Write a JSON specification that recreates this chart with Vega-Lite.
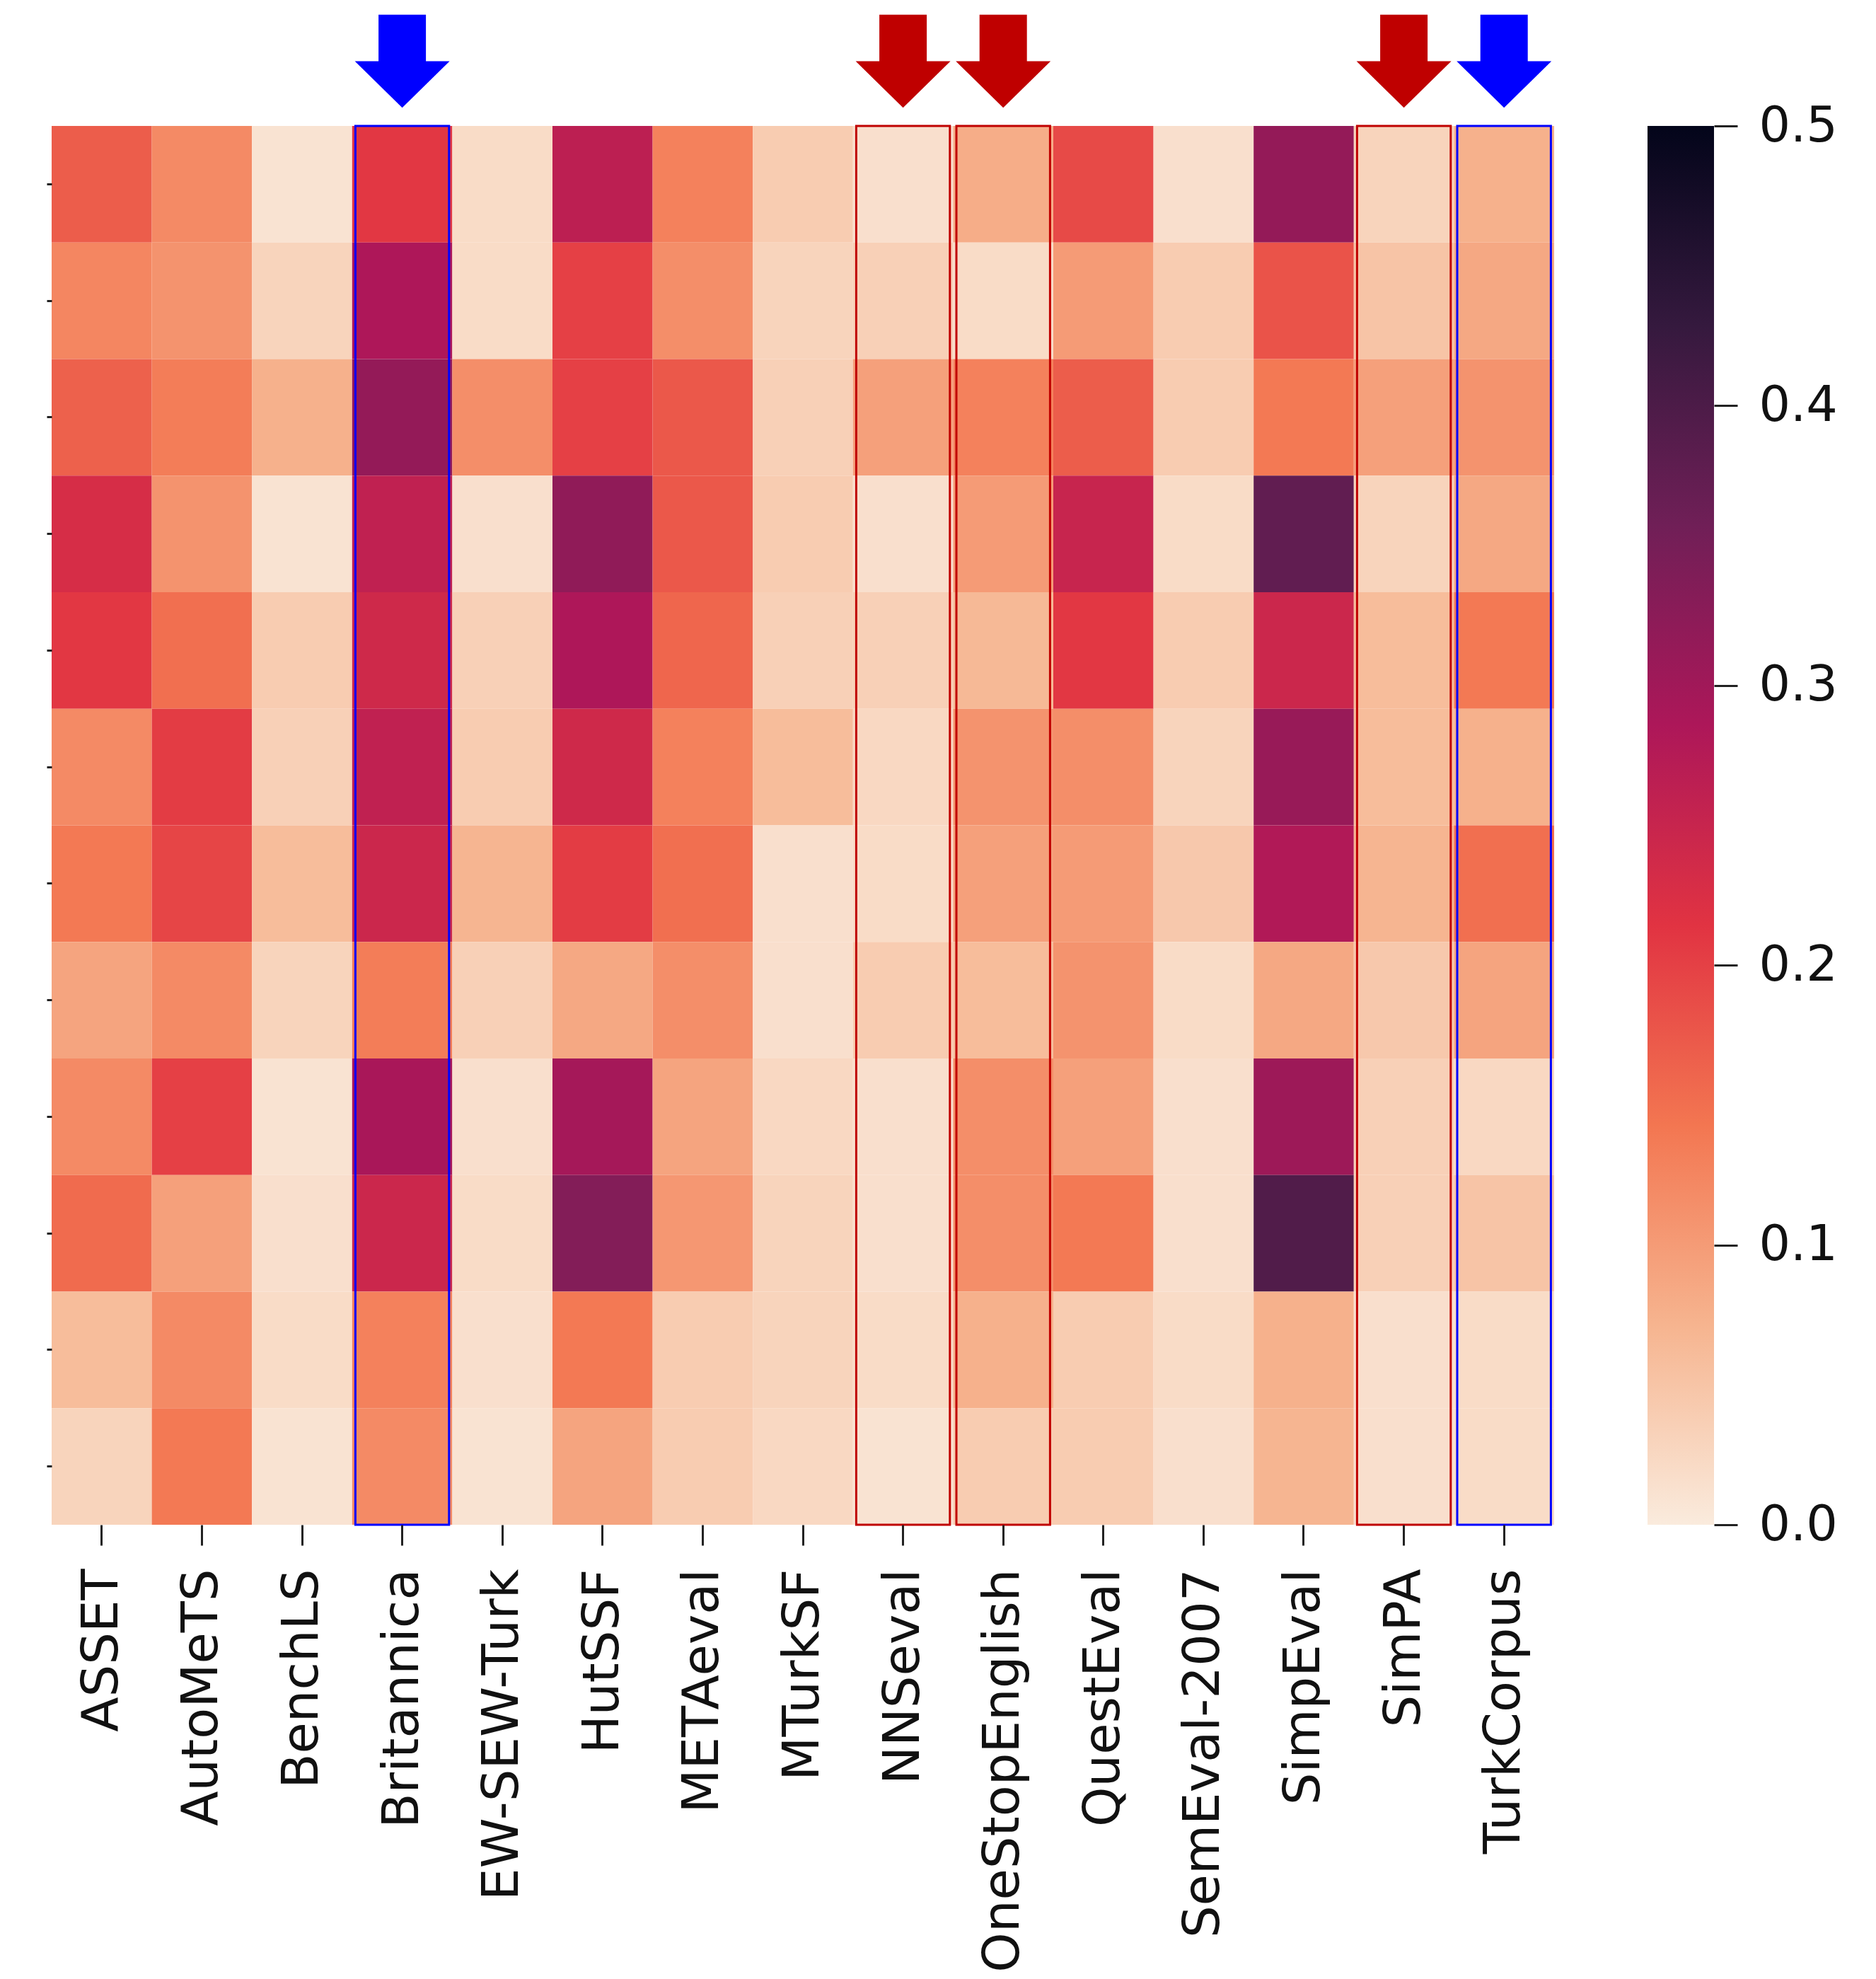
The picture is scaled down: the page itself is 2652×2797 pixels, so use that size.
{
  "$schema": "https://vega.github.io/schema/vega-lite/v6.json",
  "background": "white",
  "padding": {"left": 64, "top": 0, "right": 0, "bottom": 0},
  "config": {"view": {"stroke": null}, "font": "DejaVu Sans"},
  "datasets": {
    "marked": [
      {"set": "Britannica", "group": "blue"},
      {"set": "NNSeval", "group": "red"},
      {"set": "OneStopEnglish", "group": "red"},
      {"set": "SimPA", "group": "red"},
      {"set": "TurkCorpus", "group": "blue"}
    ],
    "cells": [
      {"row":1,"set":"ASSET","v":0.17},{"row":1,"set":"AutoMeTS","v":0.12},{"row":1,"set":"BenchLS","v":0.01},{"row":1,"set":"Britannica","v":0.21},{"row":1,"set":"EW-SEW-Turk","v":0.02},{"row":1,"set":"HutSSF","v":0.265},{"row":1,"set":"METAeval","v":0.13},{"row":1,"set":"MTurkSF","v":0.04},{"row":1,"set":"NNSeval","v":0.015},{"row":1,"set":"OneStopEnglish","v":0.08},{"row":1,"set":"QuestEval","v":0.19},{"row":1,"set":"SemEval-2007","v":0.015},{"row":1,"set":"SimpEval","v":0.315},{"row":1,"set":"SimPA","v":0.03},{"row":1,"set":"TurkCorpus","v":0.075},
      {"row":2,"set":"ASSET","v":0.125},{"row":2,"set":"AutoMeTS","v":0.11},{"row":2,"set":"BenchLS","v":0.03},{"row":2,"set":"Britannica","v":0.285},{"row":2,"set":"EW-SEW-Turk","v":0.02},{"row":2,"set":"HutSSF","v":0.2},{"row":2,"set":"METAeval","v":0.115},{"row":2,"set":"MTurkSF","v":0.03},{"row":2,"set":"NNSeval","v":0.035},{"row":2,"set":"OneStopEnglish","v":0.02},{"row":2,"set":"QuestEval","v":0.1},{"row":2,"set":"SemEval-2007","v":0.04},{"row":2,"set":"SimpEval","v":0.18},{"row":2,"set":"SimPA","v":0.05},{"row":2,"set":"TurkCorpus","v":0.085},
      {"row":3,"set":"ASSET","v":0.165},{"row":3,"set":"AutoMeTS","v":0.135},{"row":3,"set":"BenchLS","v":0.075},{"row":3,"set":"Britannica","v":0.315},{"row":3,"set":"EW-SEW-Turk","v":0.115},{"row":3,"set":"HutSSF","v":0.2},{"row":3,"set":"METAeval","v":0.175},{"row":3,"set":"MTurkSF","v":0.035},{"row":3,"set":"NNSeval","v":0.095},{"row":3,"set":"OneStopEnglish","v":0.13},{"row":3,"set":"QuestEval","v":0.17},{"row":3,"set":"SemEval-2007","v":0.04},{"row":3,"set":"SimpEval","v":0.14},{"row":3,"set":"SimPA","v":0.095},{"row":3,"set":"TurkCorpus","v":0.11},
      {"row":4,"set":"ASSET","v":0.23},{"row":4,"set":"AutoMeTS","v":0.11},{"row":4,"set":"BenchLS","v":0.01},{"row":4,"set":"Britannica","v":0.26},{"row":4,"set":"EW-SEW-Turk","v":0.015},{"row":4,"set":"HutSSF","v":0.32},{"row":4,"set":"METAeval","v":0.175},{"row":4,"set":"MTurkSF","v":0.04},{"row":4,"set":"NNSeval","v":0.015},{"row":4,"set":"OneStopEnglish","v":0.1},{"row":4,"set":"QuestEval","v":0.25},{"row":4,"set":"SemEval-2007","v":0.02},{"row":4,"set":"SimpEval","v":0.375},{"row":4,"set":"SimPA","v":0.03},{"row":4,"set":"TurkCorpus","v":0.085},
      {"row":5,"set":"ASSET","v":0.21},{"row":5,"set":"AutoMeTS","v":0.15},{"row":5,"set":"BenchLS","v":0.04},{"row":5,"set":"Britannica","v":0.24},{"row":5,"set":"EW-SEW-Turk","v":0.035},{"row":5,"set":"HutSSF","v":0.285},{"row":5,"set":"METAeval","v":0.16},{"row":5,"set":"MTurkSF","v":0.035},{"row":5,"set":"NNSeval","v":0.035},{"row":5,"set":"OneStopEnglish","v":0.065},{"row":5,"set":"QuestEval","v":0.21},{"row":5,"set":"SemEval-2007","v":0.04},{"row":5,"set":"SimpEval","v":0.245},{"row":5,"set":"SimPA","v":0.06},{"row":5,"set":"TurkCorpus","v":0.14},
      {"row":6,"set":"ASSET","v":0.12},{"row":6,"set":"AutoMeTS","v":0.205},{"row":6,"set":"BenchLS","v":0.035},{"row":6,"set":"Britannica","v":0.26},{"row":6,"set":"EW-SEW-Turk","v":0.04},{"row":6,"set":"HutSSF","v":0.24},{"row":6,"set":"METAeval","v":0.13},{"row":6,"set":"MTurkSF","v":0.06},{"row":6,"set":"NNSeval","v":0.025},{"row":6,"set":"OneStopEnglish","v":0.11},{"row":6,"set":"QuestEval","v":0.115},{"row":6,"set":"SemEval-2007","v":0.03},{"row":6,"set":"SimpEval","v":0.31},{"row":6,"set":"SimPA","v":0.06},{"row":6,"set":"TurkCorpus","v":0.075},
      {"row":7,"set":"ASSET","v":0.14},{"row":7,"set":"AutoMeTS","v":0.195},{"row":7,"set":"BenchLS","v":0.06},{"row":7,"set":"Britannica","v":0.245},{"row":7,"set":"EW-SEW-Turk","v":0.07},{"row":7,"set":"HutSSF","v":0.205},{"row":7,"set":"METAeval","v":0.15},{"row":7,"set":"MTurkSF","v":0.015},{"row":7,"set":"NNSeval","v":0.02},{"row":7,"set":"OneStopEnglish","v":0.095},{"row":7,"set":"QuestEval","v":0.1},{"row":7,"set":"SemEval-2007","v":0.045},{"row":7,"set":"SimpEval","v":0.28},{"row":7,"set":"SimPA","v":0.07},{"row":7,"set":"TurkCorpus","v":0.15},
      {"row":8,"set":"ASSET","v":0.09},{"row":8,"set":"AutoMeTS","v":0.12},{"row":8,"set":"BenchLS","v":0.03},{"row":8,"set":"Britannica","v":0.135},{"row":8,"set":"EW-SEW-Turk","v":0.035},{"row":8,"set":"HutSSF","v":0.085},{"row":8,"set":"METAeval","v":0.115},{"row":8,"set":"MTurkSF","v":0.015},{"row":8,"set":"NNSeval","v":0.04},{"row":8,"set":"OneStopEnglish","v":0.06},{"row":8,"set":"QuestEval","v":0.11},{"row":8,"set":"SemEval-2007","v":0.02},{"row":8,"set":"SimpEval","v":0.085},{"row":8,"set":"SimPA","v":0.045},{"row":8,"set":"TurkCorpus","v":0.09},
      {"row":9,"set":"ASSET","v":0.12},{"row":9,"set":"AutoMeTS","v":0.2},{"row":9,"set":"BenchLS","v":0.01},{"row":9,"set":"Britannica","v":0.29},{"row":9,"set":"EW-SEW-Turk","v":0.015},{"row":9,"set":"HutSSF","v":0.295},{"row":9,"set":"METAeval","v":0.09},{"row":9,"set":"MTurkSF","v":0.025},{"row":9,"set":"NNSeval","v":0.015},{"row":9,"set":"OneStopEnglish","v":0.115},{"row":9,"set":"QuestEval","v":0.095},{"row":9,"set":"SemEval-2007","v":0.015},{"row":9,"set":"SimpEval","v":0.305},{"row":9,"set":"SimPA","v":0.035},{"row":9,"set":"TurkCorpus","v":0.025},
      {"row":10,"set":"ASSET","v":0.155},{"row":10,"set":"AutoMeTS","v":0.095},{"row":10,"set":"BenchLS","v":0.015},{"row":10,"set":"Britannica","v":0.245},{"row":10,"set":"EW-SEW-Turk","v":0.02},{"row":10,"set":"HutSSF","v":0.335},{"row":10,"set":"METAeval","v":0.105},{"row":10,"set":"MTurkSF","v":0.03},{"row":10,"set":"NNSeval","v":0.015},{"row":10,"set":"OneStopEnglish","v":0.115},{"row":10,"set":"QuestEval","v":0.14},{"row":10,"set":"SemEval-2007","v":0.015},{"row":10,"set":"SimpEval","v":0.395},{"row":10,"set":"SimPA","v":0.035},{"row":10,"set":"TurkCorpus","v":0.05},
      {"row":11,"set":"ASSET","v":0.06},{"row":11,"set":"AutoMeTS","v":0.12},{"row":11,"set":"BenchLS","v":0.02},{"row":11,"set":"Britannica","v":0.13},{"row":11,"set":"EW-SEW-Turk","v":0.015},{"row":11,"set":"HutSSF","v":0.14},{"row":11,"set":"METAeval","v":0.04},{"row":11,"set":"MTurkSF","v":0.03},{"row":11,"set":"NNSeval","v":0.02},{"row":11,"set":"OneStopEnglish","v":0.075},{"row":11,"set":"QuestEval","v":0.04},{"row":11,"set":"SemEval-2007","v":0.02},{"row":11,"set":"SimpEval","v":0.075},{"row":11,"set":"SimPA","v":0.015},{"row":11,"set":"TurkCorpus","v":0.02},
      {"row":12,"set":"ASSET","v":0.03},{"row":12,"set":"AutoMeTS","v":0.14},{"row":12,"set":"BenchLS","v":0.01},{"row":12,"set":"Britannica","v":0.12},{"row":12,"set":"EW-SEW-Turk","v":0.01},{"row":12,"set":"HutSSF","v":0.09},{"row":12,"set":"METAeval","v":0.04},{"row":12,"set":"MTurkSF","v":0.025},{"row":12,"set":"NNSeval","v":0.01},{"row":12,"set":"OneStopEnglish","v":0.04},{"row":12,"set":"QuestEval","v":0.04},{"row":12,"set":"SemEval-2007","v":0.015},{"row":12,"set":"SimpEval","v":0.07},{"row":12,"set":"SimPA","v":0.015},{"row":12,"set":"TurkCorpus","v":0.02}
    ],
    "bar": [{"lo": 0, "hi": 0.5}]
  },
  "bounds": "flush",
  "spacing": 5,
  "vconcat": [
    {
      "width": 2124,
      "height": 173,
      "data": {"name": "marked"},
      "mark": {"type": "point", "filled": true, "opacity": 1, "shape": "M -0.5 -0.98 L 0.5 -0.98 L 0.5 0 L 1 0 L 0 0.98 L -1 0 L -0.5 0 Z", "size": 17956},
      "encoding": {
        "x": {"field": "set", "type": "nominal", "axis": null,
              "scale": {"domain": ["ASSET","AutoMeTS","BenchLS","Britannica","EW-SEW-Turk","HutSSF","METAeval","MTurkSF","NNSeval","OneStopEnglish","QuestEval","SemEval-2007","SimpEval","SimPA","TurkCorpus"], "type": "band", "paddingInner": 0, "paddingOuter": 0}},
        "color": {"field": "group", "type": "nominal", "legend": null,
                  "scale": {"domain": ["blue", "red"], "range": ["#0000ff", "#bf0000"]}}
      }
    },
    {
      "spacing": 132,
      "bounds": "flush",
      "hconcat": [
        {
          "width": 2124,
          "height": 1977,
          "layer": [
            {
              "data": {"name": "cells"},
              "mark": {"type": "rect"},
              "encoding": {
                "x": {"field": "set", "type": "nominal", "title": null,
                      "scale": {"domain": ["ASSET","AutoMeTS","BenchLS","Britannica","EW-SEW-Turk","HutSSF","METAeval","MTurkSF","NNSeval","OneStopEnglish","QuestEval","SemEval-2007","SimpEval","SimPA","TurkCorpus"], "type": "band", "paddingInner": 0, "paddingOuter": 0},
                      "axis": {"domain": false, "labelAngle": -90, "labelFontSize": 72, "labelFont": "DejaVu Sans", "labelColor": "#111111", "labelPadding": 33, "labelLimit": 0, "tickSize": 29, "tickWidth": 3, "tickColor": "#222222", "grid": false}},
                "y": {"field": "row", "type": "ordinal", "title": null,
                      "scale": {"paddingInner": 0, "paddingOuter": 0},
                      "axis": {"domain": false, "labels": false, "tickSize": 7, "tickWidth": 3, "tickColor": "#222222", "grid": false}},
                "color": {"field": "v", "type": "quantitative", "legend": null,
                          "scale": {"domain": [0, 0.0714, 0.1429, 0.2143, 0.2857, 0.3571, 0.4286, 0.5],
                                    "range": ["#faebdd", "#f6b48f", "#f37651", "#e13342", "#ad1759", "#701f57", "#35193e", "#03051a"],
                                    "interpolate": "rgb"}}
              }
            },
            {
              "data": {"name": "marked"},
              "mark": {"type": "rect", "fillOpacity": 0, "strokeWidth": 3, "width": {"band": 0.935}, "clip": false},
              "encoding": {
                "x": {"field": "set", "type": "nominal"},
                "stroke": {"field": "group", "type": "nominal", "legend": null,
                           "scale": {"domain": ["blue", "red"], "range": ["#0000ff", "#c00000"]}}
              }
            }
          ]
        },
        {
          "width": 94,
          "height": 1977,
          "data": {"name": "bar"},
          "mark": {"type": "rect", "fill": {"gradient": "linear", "x1": 0, "y1": 1, "x2": 0, "y2": 0,
                   "stops": [
                     {"offset": 0, "color": "#faebdd"},
                     {"offset": 0.1429, "color": "#f6b48f"},
                     {"offset": 0.2857, "color": "#f37651"},
                     {"offset": 0.4286, "color": "#e13342"},
                     {"offset": 0.5714, "color": "#ad1759"},
                     {"offset": 0.7143, "color": "#701f57"},
                     {"offset": 0.8571, "color": "#35193e"},
                     {"offset": 1, "color": "#03051a"}]}},
          "encoding": {
            "y": {"field": "lo", "type": "quantitative", "title": null,
                  "scale": {"domain": [0, 0.5], "nice": false, "zero": false},
                  "axis": {"orient": "right", "values": [0, 0.1, 0.2, 0.3, 0.4, 0.5], "format": ".1f", "domain": false, "grid": false,
                           "tickSize": 33, "tickWidth": 3, "tickColor": "#222222", "labelFontSize": 70, "labelFont": "DejaVu Sans", "labelColor": "#111111", "labelPadding": 30, "labelFlush": false}},
            "y2": {"field": "hi"}
          }
        }
      ]
    }
  ]
}
